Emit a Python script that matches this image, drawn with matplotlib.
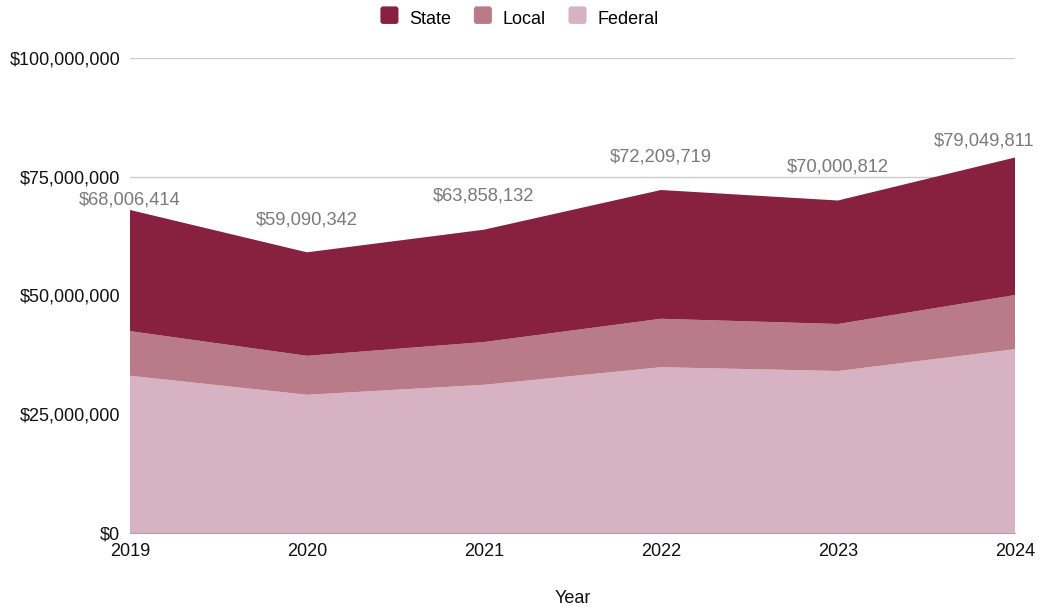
import matplotlib.pyplot as plt
from matplotlib.patches import FancyBboxPatch
from matplotlib.legend_handler import HandlerPatch
from matplotlib.patches import Patch
from matplotlib.ticker import FuncFormatter

years = [2019, 2020, 2021, 2022, 2023, 2024]
federal = [33.1e6, 29.1e6, 31.2e6, 34.9e6, 34.1e6, 38.7e6]
local = [9.4e6, 8.2e6, 9.0e6, 10.2e6, 9.9e6, 11.4e6]
totals = [68006414, 59090342, 63858132, 72209719, 70000812, 79049811]
state = [t - f - l for t, f, l in zip(totals, federal, local)]
series_names = ['State', 'Local', 'Federal']
colors = {'State': '#88213f', 'Local': '#b97b88', 'Federal': '#d6b2c3'}

# label placement (points) - chart lib nudges labels to avoid overlaps
label_dx = [0, 0, 0, 0, 0, -22]
label_dy = [7, 23, 24, 24, 24, 12]

plt.rcParams['font.family'] = ['Liberation Sans', 'DejaVu Sans']

fig = plt.figure(figsize=(10.39, 6.07), dpi=100)
ax = fig.add_axes([130 / 1039, 1 - 533 / 607, 885 / 1039, 475 / 607])

ax.stackplot(years, federal, local, state,
             colors=[colors['Federal'], colors['Local'], colors['State']],
             linewidth=0, zorder=2)

ax.set_xlim(2019, 2024)
ax.set_ylim(0, 100e6)
ax.set_yticks([0, 25e6, 50e6, 75e6, 100e6])
ax.yaxis.set_major_formatter(FuncFormatter(lambda v, p: '${:,.0f}'.format(v)))
ax.set_xticks(years)
ax.grid(axis='y', color='#cccccc', linewidth=1, zorder=0)
ax.set_axisbelow(True)
for s in ['top', 'right', 'left']:
    ax.spines[s].set_visible(False)
ax.spines['bottom'].set_color('#b3a0a8')
ax.tick_params(axis='both', length=0, labelsize=13, colors='#111111')
ax.tick_params(axis='y', pad=7)
ax.tick_params(axis='x', pad=7)
ax.set_xlabel('Year', fontsize=13, color='#111111', labelpad=22)

# total labels
for x, t, dx, dy in zip(years, totals, label_dx, label_dy):
    ax.annotate('${:,}'.format(t), (x, t), xytext=(dx, dy),
                textcoords='offset points', ha='center', va='center',
                fontsize=13.2, color='#7a7a7a', zorder=3, annotation_clip=False)


class RoundBox(HandlerPatch):
    def create_artists(self, legend, orig, xd, yd, w, h, fs, trans):
        p = FancyBboxPatch((xd, yd - 1), w, h + 1,
                           boxstyle='round,pad=0,rounding_size=2',
                           facecolor=orig.get_facecolor(), edgecolor='none',
                           transform=trans)
        return [p]


handles = [Patch(facecolor=colors[n], edgecolor='none', label=n) for n in series_names]
fig.legend(handles=handles, loc='upper center', bbox_to_anchor=(0.5, 1.01),
           ncol=3, frameon=False, fontsize=13, handlelength=1.0,
           handleheight=1.0, columnspacing=1.25, handletextpad=0.6,
           handler_map={Patch: RoundBox()})

fig.savefig('out.png', dpi=100)
